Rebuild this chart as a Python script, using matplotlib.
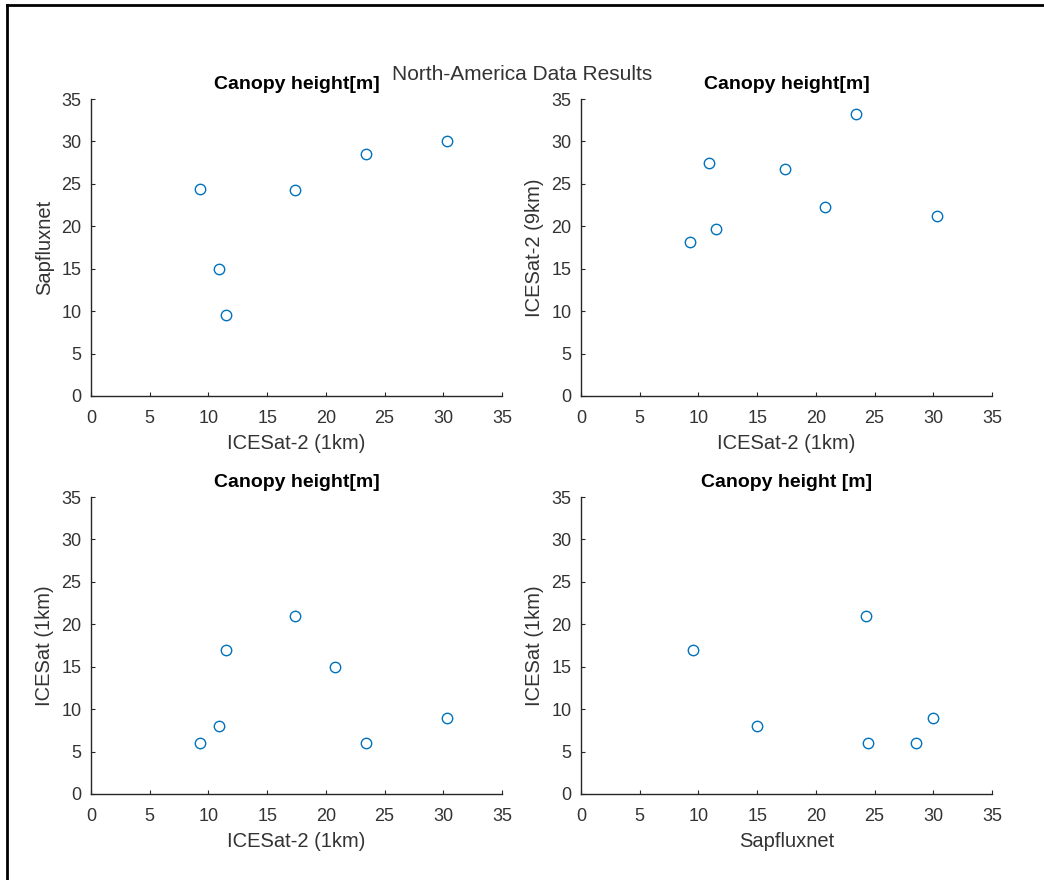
import numpy as np
import matplotlib
matplotlib.use('Agg')
import matplotlib.pyplot as plt
from matplotlib.lines import Line2D

############################## Data ############################################
# one entry per site, NaN where Sapfluxnet has no value
icesat2_1km = [9.3, 10.9, 11.5, 17.4, 20.8, 23.4, 30.3]
icesat2_9km = [18.1, 27.5, 19.7, 26.7, 22.3, 33.2, 21.2]
icesat_1km = [6, 8, 17, 21, 15, 6, 9]
sapfluxnet = [24.4, 15.0, 9.5, 24.3, np.nan, 28.5, 30.0]

ticks = [0, 5, 10, 15, 20, 25, 30, 35]

############################## Style ###########################################
plt.rcParams['font.family'] = ['Liberation Sans', 'DejaVu Sans']
axis_col = '#262626'
dot_col = '#0072bd'

fig = plt.figure(figsize=(10.44, 8.8), dpi=100)

# axes rectangles in pixels (left, top, width, height)
W, H = 1044.0, 880.0
boxes = [(91, 99, 411, 297), (581, 99, 411, 297),
         (91, 497, 411, 297), (581, 497, 411, 297)]

panels = [
    (icesat2_1km, sapfluxnet, 'Canopy height[m]', 'ICESat-2 (1km)', 'Sapfluxnet'),
    (icesat2_1km, icesat2_9km, 'Canopy height[m]', 'ICESat-2 (1km)', 'ICESat-2 (9km)'),
    (icesat2_1km, icesat_1km, 'Canopy height[m]', 'ICESat-2 (1km)', 'ICESat (1km)'),
    (sapfluxnet, icesat_1km, 'Canopy height [m]', 'Sapfluxnet', 'ICESat (1km)'),
]

for (l, t, w, h), (x, y, title, xl, yl) in zip(boxes, panels):
    ax = fig.add_axes([l / W, 1 - (t + h) / H, w / W, h / H])
    ax.plot(x, y, 'o', markersize=7.5, markerfacecolor='none',
            markeredgecolor=dot_col, markeredgewidth=1.0)
    ax.set_xlim(0, 35)
    ax.set_ylim(0, 35)
    ax.set_xticks(ticks)
    ax.set_yticks(ticks)
    ## matlab like look: box off, inward ticks
    ax.spines['right'].set_visible(False)
    ax.spines['top'].set_visible(False)
    for s in ['left', 'bottom']:
        ax.spines[s].set_color(axis_col)
        ax.spines[s].set_linewidth(1.0)
    ax.tick_params(direction='in', length=3, width=0.8, colors=axis_col,
                   labelsize=13, labelcolor='#333333')
    ax.tick_params(axis='x', pad=10)
    ax.tick_params(axis='y', pad=7)
    ax.set_title(title, fontsize=14, fontweight='bold', color='black', pad=7)
    ax.set_xlabel(xl, fontsize=14.5, color='#333333', labelpad=5)
    ax.set_ylabel(yl, fontsize=14.5, color='#333333', labelpad=5)

fig.text(0.5, 1 - 75 / H, 'North-America Data Results', ha='center',
         va='center', fontsize=15, color='#333333')

## frame lines on the left and top edge
fig.add_artist(Line2D([7 / W, 7 / W], [0, 1 - 5 / H], color='black',
                      linewidth=2, transform=fig.transFigure))
fig.add_artist(Line2D([7 / W, 1], [1 - 5 / H, 1 - 5 / H], color='black',
                      linewidth=2, transform=fig.transFigure))

plt.savefig('out.png', dpi=100)
